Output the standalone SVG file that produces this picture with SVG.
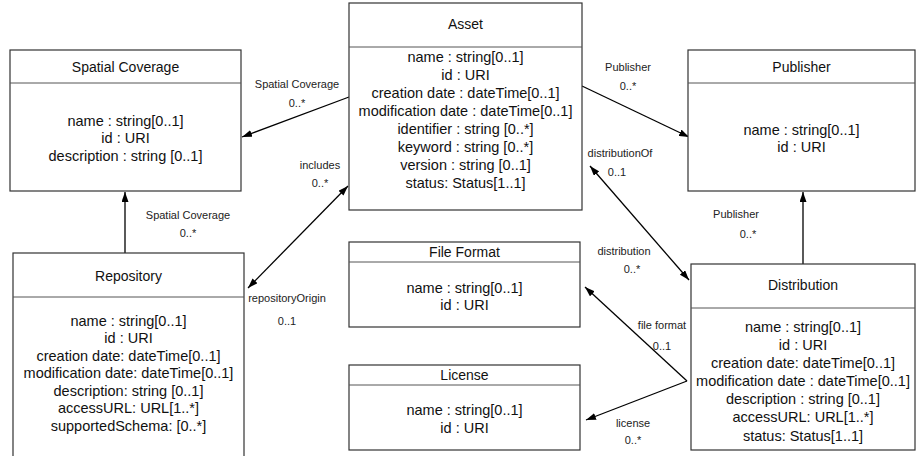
<svg xmlns="http://www.w3.org/2000/svg" width="916" height="456" viewBox="0 0 916 456">
<defs>
<style>
.box{fill:#fff;stroke:#333;stroke-width:1.2}
.div{stroke:#555;stroke-width:1}
.t{font-family:"Liberation Sans",Arial,sans-serif;font-size:14px;fill:#111;text-anchor:middle}
.a{font-family:"Liberation Sans",Arial,sans-serif;font-size:14.5px;fill:#111;text-anchor:middle}
.l{font-family:"Liberation Sans",Arial,sans-serif;font-size:11px;fill:#222;text-anchor:middle}
.c{stroke:#000;stroke-width:1.3;fill:none}
</style>
<marker id="ah" viewBox="0 0 10 7" refX="10" refY="3.5" markerWidth="10" markerHeight="7" markerUnits="userSpaceOnUse" orient="auto-start-reverse">
<path d="M0,0 L10,3.5 L0,7 z" fill="#000"/>
</marker>
</defs>
<rect width="916" height="456" fill="#fff"/>

<g id="connectors">
<line class="c" x1="349" y1="97" x2="242" y2="137" marker-end="url(#ah)"/>
<line class="c" x1="248" y1="288" x2="348" y2="186" marker-start="url(#ah)" marker-end="url(#ah)"/>
<line class="c" x1="125" y1="253" x2="125" y2="192" marker-end="url(#ah)"/>
<line class="c" x1="582" y1="86" x2="689" y2="137" marker-end="url(#ah)"/>
<line class="c" x1="590" y1="166" x2="689" y2="280" marker-start="url(#ah)" marker-end="url(#ah)"/>
<line class="c" x1="803" y1="264" x2="803" y2="192" marker-end="url(#ah)"/>
<line class="c" x1="687" y1="381" x2="585" y2="287" marker-end="url(#ah)"/>
<line class="c" x1="687" y1="381" x2="586" y2="420" marker-end="url(#ah)"/>
<text class="l" x="297" y="88">Spatial Coverage</text>
<text class="l" x="297" y="107">0..*</text>
<text class="l" x="320" y="169">includes</text>
<text class="l" x="320" y="187">0..*</text>
<text class="l" x="287" y="302">repositoryOrigin</text>
<text class="l" x="287" y="325">0..1</text>
<text class="l" x="188" y="219">Spatial Coverage</text>
<text class="l" x="188" y="237">0..*</text>
<text class="l" x="628" y="71">Publisher</text>
<text class="l" x="628" y="90">0..*</text>
<text class="l" x="620" y="157">distributionOf</text>
<text class="l" x="617" y="176">0..1</text>
<text class="l" x="624" y="255">distribution</text>
<text class="l" x="632" y="273">0..*</text>
<text class="l" x="736" y="218">Publisher</text>
<text class="l" x="748" y="238">0..*</text>
<text class="l" x="662" y="329">file format</text>
<text class="l" x="662" y="350">0..1</text>
<text class="l" x="633" y="427">license</text>
<text class="l" x="633" y="444">0..*</text>
</g>

<g id="asset">
<rect class="box" x="349" y="3" width="233" height="207"/>
<line class="div" x1="349" y1="47" x2="582" y2="47"/>
<text class="t" x="465.5" y="29">Asset</text>
<text class="a" x="465.5" y="62">name : string[0..1]</text>
<text class="a" x="465.5" y="80">id : URI</text>
<text class="a" x="465.5" y="98">creation date : dateTime[0..1]</text>
<text class="a" x="465.5" y="116">modification date : dateTime[0..1]</text>
<text class="a" x="465.5" y="134">identifier : string [0..*]</text>
<text class="a" x="465.5" y="152">keyword : string [0..*]</text>
<text class="a" x="465.5" y="170">version : string [0..1]</text>
<text class="a" x="465.5" y="188">status: Status[1..1]</text>
</g>

<g id="spatial-coverage">
<rect class="box" x="10" y="50" width="231" height="141"/>
<line class="div" x1="10" y1="83" x2="241" y2="83"/>
<text class="t" x="125.5" y="72">Spatial Coverage</text>
<text class="a" x="125.5" y="126">name : string[0..1]</text>
<text class="a" x="125.5" y="143">id : URI</text>
<text class="a" x="125.5" y="161">description : string [0..1]</text>
</g>

<g id="publisher">
<rect class="box" x="688" y="50" width="227" height="141"/>
<line class="div" x1="688" y1="83" x2="915" y2="83"/>
<text class="t" x="801.5" y="72">Publisher</text>
<text class="a" x="801.5" y="135">name : string[0..1]</text>
<text class="a" x="801.5" y="152">id : URI</text>
</g>

<g id="repository">
<rect class="box" x="13" y="253" width="231" height="210"/>
<line class="div" x1="13" y1="297" x2="244" y2="297"/>
<text class="t" x="128.5" y="281">Repository</text>
<text class="a" x="128.5" y="326">name : string[0..1]</text>
<text class="a" x="128.5" y="343">id : URI</text>
<text class="a" x="128.5" y="361">creation date: dateTime[0..1]</text>
<text class="a" x="128.5" y="378">modification date: dateTime[0..1]</text>
<text class="a" x="128.5" y="396">description: string [0..1]</text>
<text class="a" x="128.5" y="413">accessURL: URL[1..*]</text>
<text class="a" x="128.5" y="431">supportedSchema: [0..*]</text>
</g>

<g id="file-format">
<rect class="box" x="349" y="242" width="231" height="85"/>
<line class="div" x1="349" y1="262" x2="580" y2="262"/>
<text class="t" x="464.5" y="257">File Format</text>
<text class="a" x="464.5" y="293">name : string[0..1]</text>
<text class="a" x="464.5" y="310">id : URI</text>
</g>

<g id="license">
<rect class="box" x="349" y="365" width="231" height="85"/>
<line class="div" x1="349" y1="385" x2="580" y2="385"/>
<text class="t" x="464.5" y="380">License</text>
<text class="a" x="464.5" y="415">name : string[0..1]</text>
<text class="a" x="464.5" y="433">id : URI</text>
</g>

<g id="distribution">
<rect class="box" x="691" y="264" width="224" height="186"/>
<line class="div" x1="691" y1="308" x2="915" y2="308"/>
<text class="t" x="803" y="290">Distribution</text>
<text class="a" x="803" y="332">name : string[0..1]</text>
<text class="a" x="803" y="350">id : URI</text>
<text class="a" x="803" y="368">creation date: dateTime[0..1]</text>
<text class="a" x="803" y="386">modification date : dateTime[0..1]</text>
<text class="a" x="803" y="404">description : string [0..1]</text>
<text class="a" x="803" y="422">accessURL: URL[1..*]</text>
<text class="a" x="803" y="441">status: Status[1..1]</text>
</g>
</svg>
